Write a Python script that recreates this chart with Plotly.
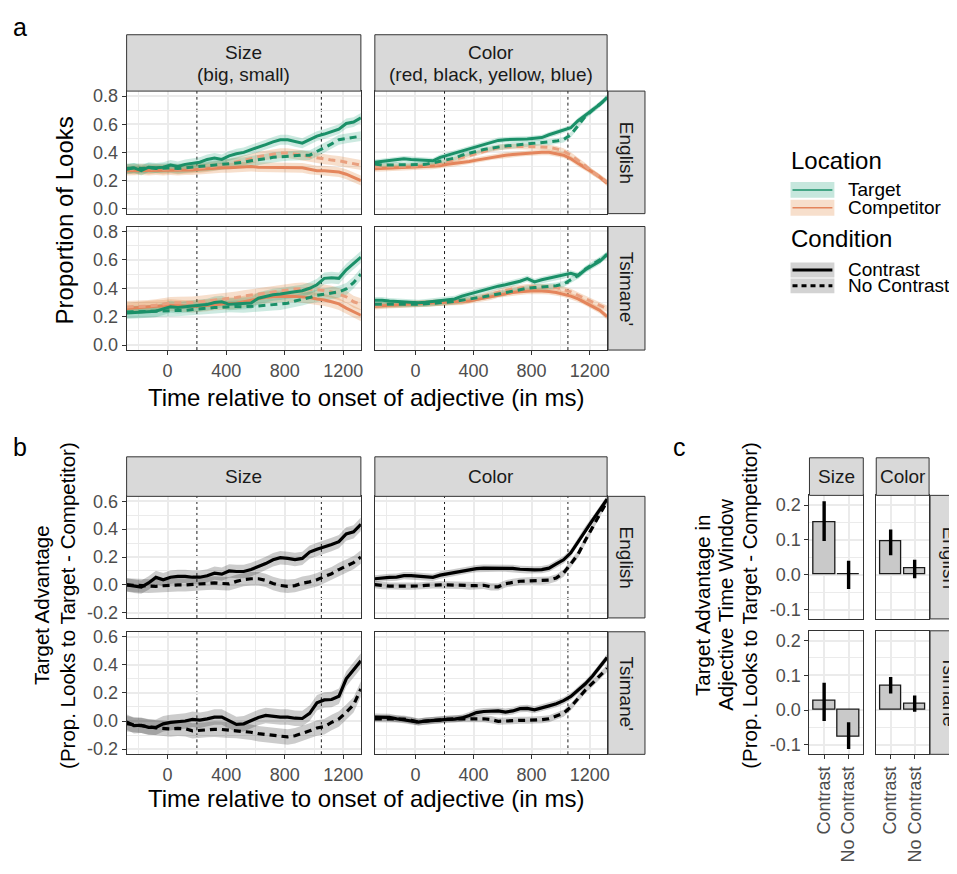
import plotly.graph_objects as go

# ---------------- data ----------------
TIME_MS = [-280, -230, -180, -130, -80, -30, 20, 70, 120, 170, 220, 270, 320, 370, 420, 470,
           520, 570, 620, 670, 720, 770, 820, 870, 920, 970, 1020, 1070, 1120, 1170, 1220, 1270, 1320]

ADJ_TYPES = ["Size", "Color"]
ADJ_EXAMPLES = ["(big, small)", "(red, black, yellow, blue)"]
LANGUAGES = ["English", "Tsimane'"]

# panel a: proportion of looks
SIZE_EN_TARGET_C = [0.28,0.29,0.27,0.295,0.29,0.295,0.31,0.30,0.315,0.32,0.33,0.35,0.36,0.35,0.375,0.39,0.40,0.42,0.435,0.455,0.475,0.49,0.49,0.475,0.465,0.49,0.515,0.53,0.545,0.565,0.605,0.615,0.645]
SIZE_EN_TARGET_NC = [0.285,0.29,0.285,0.29,0.285,0.29,0.29,0.285,0.29,0.29,0.295,0.30,0.305,0.31,0.315,0.32,0.33,0.34,0.345,0.355,0.365,0.37,0.375,0.38,0.38,0.38,0.405,0.43,0.46,0.49,0.50,0.51,0.515]
SIZE_EN_COMP_C = [0.27,0.27,0.275,0.27,0.275,0.27,0.275,0.27,0.275,0.275,0.28,0.285,0.285,0.29,0.29,0.295,0.295,0.30,0.295,0.295,0.295,0.295,0.295,0.29,0.29,0.28,0.27,0.27,0.265,0.26,0.245,0.225,0.20]
SIZE_EN_COMP_NC = [0.285,0.28,0.285,0.28,0.285,0.28,0.285,0.28,0.285,0.285,0.29,0.295,0.30,0.31,0.32,0.33,0.34,0.355,0.37,0.38,0.39,0.395,0.395,0.39,0.38,0.37,0.36,0.35,0.345,0.34,0.33,0.32,0.31]

COLOR_EN_TARGET_C = [0.33,0.335,0.34,0.345,0.355,0.35,0.345,0.34,0.34,0.365,0.38,0.395,0.41,0.43,0.445,0.46,0.475,0.485,0.49,0.49,0.495,0.495,0.50,0.505,0.525,0.54,0.555,0.575,0.625,0.665,0.70,0.74,0.79]
COLOR_EN_TARGET_NC = [0.318,0.31,0.31,0.31,0.31,0.31,0.31,0.315,0.325,0.335,0.345,0.36,0.38,0.395,0.41,0.42,0.43,0.44,0.445,0.45,0.455,0.46,0.465,0.47,0.47,0.48,0.49,0.525,0.59,0.655,0.70,0.74,0.785]
COLOR_EN_COMP_C = [0.283,0.285,0.287,0.288,0.29,0.292,0.295,0.298,0.30,0.305,0.315,0.32,0.33,0.335,0.345,0.355,0.365,0.375,0.38,0.385,0.39,0.395,0.40,0.40,0.40,0.39,0.38,0.355,0.32,0.29,0.26,0.225,0.18]
COLOR_EN_COMP_NC = [0.30,0.30,0.298,0.30,0.30,0.302,0.305,0.308,0.31,0.32,0.335,0.35,0.36,0.375,0.395,0.41,0.425,0.435,0.44,0.442,0.442,0.442,0.44,0.438,0.435,0.425,0.41,0.38,0.345,0.305,0.26,0.225,0.19]

SIZE_TS_TARGET_C = [0.226,0.23,0.233,0.235,0.238,0.255,0.27,0.264,0.27,0.273,0.278,0.285,0.30,0.305,0.287,0.29,0.292,0.297,0.33,0.345,0.355,0.36,0.365,0.375,0.383,0.40,0.425,0.47,0.475,0.47,0.53,0.575,0.62]
SIZE_TS_TARGET_NC = [0.233,0.234,0.236,0.238,0.238,0.24,0.243,0.245,0.245,0.25,0.257,0.26,0.264,0.268,0.273,0.272,0.27,0.27,0.275,0.28,0.285,0.29,0.295,0.31,0.32,0.335,0.35,0.357,0.365,0.375,0.395,0.44,0.50]
SIZE_TS_COMP_C = [0.257,0.262,0.267,0.27,0.273,0.276,0.28,0.278,0.275,0.272,0.275,0.28,0.288,0.292,0.293,0.295,0.305,0.318,0.328,0.336,0.34,0.343,0.344,0.343,0.34,0.335,0.325,0.318,0.305,0.29,0.26,0.235,0.21]
SIZE_TS_COMP_NC = [0.269,0.27,0.272,0.275,0.28,0.29,0.297,0.298,0.298,0.30,0.305,0.31,0.316,0.322,0.327,0.335,0.345,0.352,0.36,0.368,0.376,0.383,0.388,0.395,0.398,0.395,0.39,0.385,0.375,0.36,0.34,0.305,0.287]

COLOR_TS_TARGET_C = [0.316,0.316,0.31,0.306,0.304,0.302,0.298,0.302,0.308,0.315,0.32,0.325,0.345,0.36,0.375,0.388,0.40,0.415,0.425,0.435,0.45,0.468,0.445,0.46,0.47,0.48,0.49,0.505,0.49,0.53,0.56,0.59,0.64]
COLOR_TS_TARGET_NC = [0.287,0.288,0.288,0.288,0.288,0.288,0.287,0.29,0.295,0.298,0.302,0.308,0.315,0.322,0.33,0.34,0.35,0.36,0.37,0.385,0.395,0.40,0.405,0.41,0.413,0.418,0.43,0.46,0.49,0.535,0.57,0.60,0.634]
COLOR_TS_COMP_C = [0.273,0.277,0.28,0.283,0.287,0.29,0.292,0.294,0.296,0.298,0.30,0.302,0.304,0.31,0.32,0.33,0.34,0.355,0.365,0.37,0.375,0.38,0.382,0.38,0.378,0.37,0.36,0.345,0.325,0.30,0.275,0.245,0.20]
COLOR_TS_COMP_NC = [0.28,0.282,0.284,0.286,0.287,0.289,0.291,0.293,0.295,0.297,0.30,0.305,0.31,0.318,0.33,0.345,0.36,0.375,0.385,0.395,0.402,0.408,0.41,0.41,0.41,0.405,0.39,0.375,0.35,0.325,0.30,0.28,0.257]

# ribbon half-widths (panel a), per facet
A_RIBBON_SIZE_EN = 0.035
A_RIBBON_COLOR_EN = 0.02
A_RIBBON_SIZE_TS = 0.042
A_RIBBON_COLOR_TS = 0.022

# panel b: target advantage
B_SIZE_EN_C = [0.0,-0.01,-0.016,0.014,0.054,0.037,0.055,0.061,0.061,0.055,0.055,0.065,0.084,0.077,0.10,0.096,0.096,0.11,0.13,0.153,0.18,0.195,0.19,0.182,0.19,0.235,0.255,0.27,0.29,0.31,0.365,0.38,0.435]
B_SIZE_EN_NC = [0.0,-0.003,-0.008,-0.01,-0.01,-0.006,-0.002,0.0,0.0,0.003,0.007,0.012,0.014,0.01,0.008,0.025,0.038,0.044,0.044,0.032,0.01,-0.004,-0.01,-0.005,0.012,0.022,0.037,0.06,0.08,0.11,0.135,0.16,0.20]
B_COLOR_EN_C = [0.044,0.05,0.054,0.056,0.066,0.066,0.062,0.058,0.054,0.07,0.08,0.09,0.10,0.11,0.117,0.12,0.12,0.12,0.12,0.118,0.112,0.108,0.108,0.11,0.12,0.15,0.18,0.23,0.31,0.395,0.465,0.54,0.615]
B_COLOR_EN_NC = [0.002,-0.005,-0.009,-0.009,-0.009,-0.009,-0.008,-0.003,0.0,0.0,0.0,-0.002,-0.004,-0.009,-0.006,-0.003,-0.014,-0.014,0.008,0.018,0.026,0.028,0.03,0.028,0.035,0.05,0.085,0.15,0.22,0.32,0.415,0.515,0.60]
B_SIZE_TS_C = [-0.007,-0.033,-0.03,-0.045,-0.045,-0.02,-0.01,-0.004,0.0,0.012,0.006,0.015,0.028,0.028,0.0,-0.024,-0.02,0.005,0.025,0.04,0.032,0.028,0.028,0.02,0.018,0.055,0.13,0.15,0.153,0.176,0.30,0.365,0.428]
B_SIZE_TS_NC = [-0.019,-0.025,-0.03,-0.04,-0.049,-0.052,-0.056,-0.052,-0.055,-0.07,-0.065,-0.06,-0.059,-0.06,-0.065,-0.068,-0.072,-0.08,-0.09,-0.097,-0.103,-0.108,-0.113,-0.105,-0.09,-0.07,-0.05,-0.04,-0.01,0.015,0.062,0.115,0.228]
B_COLOR_TS_C = [0.028,0.028,0.026,0.016,0.008,0.0,-0.007,0.0,0.005,0.008,0.012,0.014,0.022,0.04,0.06,0.068,0.072,0.072,0.064,0.072,0.088,0.09,0.08,0.092,0.108,0.123,0.145,0.175,0.22,0.265,0.32,0.385,0.452]
B_COLOR_TS_NC = [0.016,0.016,0.016,0.015,0.014,0.005,-0.007,0.0,0.005,0.01,0.016,0.016,0.016,0.016,0.016,0.016,0.01,-0.002,0.0,0.005,0.005,0.005,0.005,0.01,0.016,0.035,0.055,0.1,0.16,0.22,0.27,0.32,0.374]

B_RIBBON_SIZE_EN = 0.048
B_RIBBON_COLOR_EN = 0.026
B_RIBBON_SIZE_TS = 0.055
B_RIBBON_COLOR_TS = 0.025

# panel c: window means with intervals
CONDITIONS = ["Contrast", "No Contrast"]
C_SIZE_EN_MEAN = [0.151, 0.002]
C_SIZE_EN_LOW = [0.097, -0.041]
C_SIZE_EN_HIGH = [0.211, 0.040]
C_COLOR_EN_MEAN = [0.095, 0.018]
C_COLOR_EN_LOW = [0.056, -0.010]
C_COLOR_EN_HIGH = [0.130, 0.043]
C_SIZE_TS_MEAN = [0.028, -0.076]
C_SIZE_TS_LOW = [-0.031, -0.112]
C_SIZE_TS_HIGH = [0.079, -0.035]
C_COLOR_TS_MEAN = [0.071, 0.019]
C_COLOR_TS_LOW = [0.048, -0.005]
C_COLOR_TS_HIGH = [0.095, 0.042]

WINDOW_START_MS = 200
WINDOW_END_MS = 1050

# ---------------- styling ----------------
# page body has an 8px margin: the figure is drawn 8px smaller and all
# layout positions below are given in page pixels (offset compensated)
OFF = 8
W, H = 957 - OFF, 874 - OFF
FONT = "Liberation Sans, Arial, sans-serif"
GREEN = "#1A9068"
GREEN_FILL = "rgba(27,158,119,0.22)"
ORANGE = "#E4855C"
ORANGE_D = "#E9A07F"
ORANGE_FILL = "rgba(217,95,2,0.2)"
GRAY_FILL = "rgba(0,0,0,0.2)"
BORDER = "#333333"
GRID = "#EBEBEB"
TICKC = "#4D4D4D"
STRIP_FILL = "#D9D9D9"
DASH = "7px,5px"
TICK_SIZE = 18
STRIP_SIZE = 19
TITLE_SIZE = 24


def fx(px):
    return (px - OFF) / W


def fy(py):
    return 1 - (py - OFF) / H


def an(k):
    return "" if k == 1 else str(k)


fig = go.Figure()
layout_axes = {}
shapes = []
annotations = []

A_COLS = [(127, 362), (376, 609)]
A_ROWS = [(87, 211), (224, 349)]
B_ROWS = [(497, 620), (634, 758)]
C_COLS = [(812, 866), (879, 932)]
C_ROWS = [(496, 621), (633, 758)]
XR = [-280, 1320]


def time_axes(k, col, row, yr, ytv, yminor, show_x, show_y):
    l, r = col
    t, b = row
    layout_axes["xaxis" + an(k)] = dict(
        domain=[fx(l), fx(r)], anchor="y" + an(k), range=XR,
        tickvals=[0, 400, 800, 1200], ticktext=["0", "400", "800", "1200"],
        showticklabels=show_x, ticks="outside" if show_x else "", ticklen=4,
        tickcolor=BORDER, tickwidth=1,
        showgrid=True, gridcolor=GRID, gridwidth=1.6,
        minor=dict(tickvals=[-200, 600, 1000], showgrid=True, gridcolor=GRID, gridwidth=0.8, ticks=""),
        showline=True, mirror=True, linecolor=BORDER, linewidth=1, zeroline=False,
        tickfont=dict(family=FONT, size=TICK_SIZE, color=TICKC), fixedrange=True)
    layout_axes["yaxis" + an(k)] = dict(
        domain=[fy(b), fy(t)], anchor="x" + an(k), range=yr,
        tickvals=ytv, ticktext=["%.1f" % v for v in ytv],
        showticklabels=show_y, ticks="outside" if show_y else "", ticklen=4,
        tickcolor=BORDER, tickwidth=1,
        showgrid=True, gridcolor=GRID, gridwidth=1.6,
        minor=dict(tickvals=yminor, showgrid=True, gridcolor=GRID, gridwidth=0.8, ticks=""),
        showline=True, mirror=True, linecolor=BORDER, linewidth=1, zeroline=False,
        tickfont=dict(family=FONT, size=TICK_SIZE, color=TICKC), fixedrange=True)
    for tv in (WINDOW_START_MS, WINDOW_END_MS):
        shapes.append(dict(type="line", xref="x" + an(k), yref="y" + an(k) + " domain",
                           x0=tv, x1=tv, y0=0, y1=1, layer="below",
                           line=dict(color="black", width=0.9, dash="3px,3px")))


def ribbon(k, y, hw, fill):
    upper = [v + hw for v in y]
    lower = [v - hw for v in y]
    fig.add_trace(go.Scatter(x=TIME_MS + TIME_MS[::-1], y=upper + lower[::-1], fill="toself",
                             fillcolor=fill, line=dict(width=0), mode="lines", hoverinfo="skip",
                             xaxis="x" + an(k), yaxis="y" + an(k), showlegend=False))


def line(k, y, color, dash, width=3.0):
    fig.add_trace(go.Scatter(x=TIME_MS, y=y, mode="lines",
                             line=dict(color=color, width=width, dash=dash),
                             xaxis="x" + an(k), yaxis="y" + an(k), showlegend=False))


# ---------- panel a ----------
A_DATA = {
    (0, 0): (SIZE_EN_TARGET_C, SIZE_EN_TARGET_NC, SIZE_EN_COMP_C, SIZE_EN_COMP_NC, A_RIBBON_SIZE_EN),
    (0, 1): (COLOR_EN_TARGET_C, COLOR_EN_TARGET_NC, COLOR_EN_COMP_C, COLOR_EN_COMP_NC, A_RIBBON_COLOR_EN),
    (1, 0): (SIZE_TS_TARGET_C, SIZE_TS_TARGET_NC, SIZE_TS_COMP_C, SIZE_TS_COMP_NC, A_RIBBON_SIZE_TS),
    (1, 1): (COLOR_TS_TARGET_C, COLOR_TS_TARGET_NC, COLOR_TS_COMP_C, COLOR_TS_COMP_NC, A_RIBBON_COLOR_TS),
}
k = 0
for ri in range(2):
    for ci in range(2):
        k += 1
        time_axes(k, A_COLS[ci], A_ROWS[ri], [-0.035, 0.835], [0, 0.2, 0.4, 0.6, 0.8],
                  [0.1, 0.3, 0.5, 0.7], ri == 1, ci == 0)
        tc, tn, cc, cn, hw = A_DATA[(ri, ci)]
        ribbon(k, cc, hw, ORANGE_FILL)
        ribbon(k, cn, hw, ORANGE_FILL)
        ribbon(k, tc, hw, GREEN_FILL)
        ribbon(k, tn, hw, GREEN_FILL)
        line(k, cc, ORANGE, "solid")
        line(k, cn, ORANGE_D, DASH)
        line(k, tc, GREEN, "solid")
        line(k, tn, GREEN, DASH)

# ---------- panel b ----------
B_DATA = {
    (0, 0): (B_SIZE_EN_C, B_SIZE_EN_NC, B_RIBBON_SIZE_EN),
    (0, 1): (B_COLOR_EN_C, B_COLOR_EN_NC, B_RIBBON_COLOR_EN),
    (1, 0): (B_SIZE_TS_C, B_SIZE_TS_NC, B_RIBBON_SIZE_TS),
    (1, 1): (B_COLOR_TS_C, B_COLOR_TS_NC, B_RIBBON_COLOR_TS),
}
for ri in range(2):
    for ci in range(2):
        k += 1
        time_axes(k, A_COLS[ci], B_ROWS[ri], [-0.237, 0.635], [-0.2, 0.0, 0.2, 0.4, 0.6],
                  [-0.1, 0.1, 0.3, 0.5], ri == 1, ci == 0)
        yc, yn, hw = B_DATA[(ri, ci)]
        ribbon(k, yc, hw, GRAY_FILL)
        ribbon(k, yn, hw, GRAY_FILL)
        line(k, yc, "black", "solid", 3.2)
        line(k, yn, "black", DASH, 3.2)

# ---------- panel c ----------
C_DATA = {
    (0, 0): (C_SIZE_EN_MEAN, C_SIZE_EN_LOW, C_SIZE_EN_HIGH),
    (0, 1): (C_COLOR_EN_MEAN, C_COLOR_EN_LOW, C_COLOR_EN_HIGH),
    (1, 0): (C_SIZE_TS_MEAN, C_SIZE_TS_LOW, C_SIZE_TS_HIGH),
    (1, 1): (C_COLOR_TS_MEAN, C_COLOR_TS_LOW, C_COLOR_TS_HIGH),
}
for ri in range(2):
    for ci in range(2):
        k += 1
        l, r = C_COLS[ci]
        t, b = C_ROWS[ri]
        show_x = ri == 1
        show_y = ci == 0
        layout_axes["xaxis" + an(k)] = dict(
            domain=[fx(l), fx(r)], anchor="y" + an(k), type="category",
            categoryorder="array", categoryarray=CONDITIONS, range=[-0.6, 1.6],
            showticklabels=show_x, ticks="outside" if show_x else "", ticklen=4,
            tickcolor=BORDER, tickwidth=1, tickangle=-90,
            showgrid=True, gridcolor=GRID, gridwidth=1.6,
            showline=True, mirror=True, linecolor=BORDER, linewidth=1, zeroline=False,
            tickfont=dict(family=FONT, size=TICK_SIZE, color=TICKC), fixedrange=True)
        ytv = [-0.1, 0.0, 0.1, 0.2]
        layout_axes["yaxis" + an(k)] = dict(
            domain=[fy(b), fy(t)], anchor="x" + an(k), range=[-0.127, 0.228],
            tickvals=ytv, ticktext=["%.1f" % v for v in ytv],
            showticklabels=show_y, ticks="outside" if show_y else "", ticklen=4,
            tickcolor=BORDER, tickwidth=1,
            showgrid=True, gridcolor=GRID, gridwidth=1.6,
            minor=dict(tickvals=[-0.05, 0.05, 0.15], showgrid=True, gridcolor=GRID, gridwidth=0.8, ticks=""),
            showline=True, mirror=True, linecolor=BORDER, linewidth=1, zeroline=False,
            tickfont=dict(family=FONT, size=TICK_SIZE, color=TICKC), fixedrange=True)
        mean, low, high = C_DATA[(ri, ci)]
        fig.add_trace(go.Bar(
            x=CONDITIONS, y=mean, width=0.9,
            marker=dict(color="#C9C9C9", line=dict(color="#1A1A1A", width=1.3)),
            error_y=dict(type="data", symmetric=False,
                         array=[h - m for h, m in zip(high, mean)],
                         arrayminus=[m - lo for m, lo in zip(mean, low)],
                         color="black", thickness=3.4, width=0),
            xaxis="x" + an(k), yaxis="y" + an(k), showlegend=False, hoverinfo="skip"))


# ---------- strips ----------
def strip_box(x0, y0, x1, y1):
    shapes.append(dict(type="rect", xref="paper", yref="paper", x0=fx(x0), x1=fx(x1),
                       y0=fy(y1), y1=fy(y0), fillcolor=STRIP_FILL,
                       line=dict(color=BORDER, width=1), layer="above"))


def strip_text(x, y, s, angle=0):
    annotations.append(dict(text=s, xref="paper", yref="paper", x=fx(x), y=fy(y),
                            showarrow=False, textangle=angle, xanchor="center", yanchor="middle",
                            font=dict(family=FONT, size=STRIP_SIZE, color="#1A1A1A")))


for ci in range(2):
    l, r = A_COLS[ci]
    strip_box(l, 30, r, 87)
    strip_text((l + r) / 2, 48, ADJ_TYPES[ci])
    strip_text((l + r) / 2, 70, ADJ_EXAMPLES[ci])
    strip_box(l, 457, r, 497)
    strip_text((l + r) / 2, 477, ADJ_TYPES[ci])
    l, r = C_COLS[ci]
    strip_box(l, 458, r, 496)
    strip_text((l + r) / 2, 477, ADJ_TYPES[ci])
for ri in range(2):
    for rows, x0, x1 in ((A_ROWS, 610, 647), (B_ROWS, 610, 647), (C_ROWS, 933, 972)):
        t, b = rows[ri]
        strip_box(x0, t, x1, b)
        strip_text((x0 + x1) / 2, (t + b) / 2, LANGUAGES[ri], 90)


# ---------- titles & labels ----------
def text(x, y, s, size, angle=0, xanchor="center", color="black"):
    annotations.append(dict(text=s, xref="paper", yref="paper", x=fx(x), y=fy(y),
                            showarrow=False, textangle=angle, xanchor=xanchor, yanchor="middle",
                            font=dict(family=FONT, size=size, color=color)))


text(20, 22, "a", 25)
text(20, 447, "b", 25)
text(682, 447, "c", 25)
text(65, 218, "Proportion of Looks", TITLE_SIZE, -90)
text(368, 397, "Time relative to onset of adjective (in ms)", TITLE_SIZE)
text(368, 803, "Time relative to onset of adjective (in ms)", TITLE_SIZE)
YT = 20.5
text(41, 607, "Target Advantage", YT, -90)
text(67, 607, "(Prop. Looks to Target - Competitor)", YT, -90)
text(704, 607, "Target Advantage in", YT, -90)
text(727, 607, "Adjective Time Window", YT, -90)
text(751, 607, "(Prop. Looks to Target - Competitor)", YT, -90)

# ---------- legend (manual) ----------
text(791, 157, "Location", 24, xanchor="left")
text(791, 236, "Condition", 24, xanchor="left")
LEG_A = [("Target", GREEN, "rgba(27,158,119,0.25)", 187),
         ("Competitor", ORANGE, "rgba(217,95,2,0.2)", 205)]
for lab, lc, fc, yc in LEG_A:
    shapes.append(dict(type="rect", xref="paper", yref="paper", x0=fx(793), x1=fx(837),
                       y0=fy(yc + 8), y1=fy(yc - 8), fillcolor=fc, line=dict(width=0)))
    shapes.append(dict(type="line", xref="paper", yref="paper", x0=fx(795), x1=fx(835),
                       y0=fy(yc), y1=fy(yc), line=dict(color=lc, width=1.5)))
    text(849, yc, lab, 19, xanchor="left")
LEG_B = [("Contrast", "solid", 268), ("No Contrast", "5px,4px", 284)]
for lab, dsh, yc in LEG_B:
    shapes.append(dict(type="rect", xref="paper", yref="paper", x0=fx(793), x1=fx(837),
                       y0=fy(yc + 7.5), y1=fy(yc - 7.5), fillcolor="#D3D3D3", line=dict(width=0)))
    shapes.append(dict(type="line", xref="paper", yref="paper", x0=fx(795), x1=fx(835),
                       y0=fy(yc), y1=fy(yc), line=dict(color="black", width=3, dash=dsh)))
    text(849, yc, lab, 19, xanchor="left")

fig.update_layout(
    width=W, height=H, margin=dict(l=0, r=0, t=0, b=0),
    paper_bgcolor="white", plot_bgcolor="white", showlegend=False,
    font=dict(family=FONT), shapes=shapes, annotations=annotations,
    bargap=0, **layout_axes)

fig.write_html("out.html")
